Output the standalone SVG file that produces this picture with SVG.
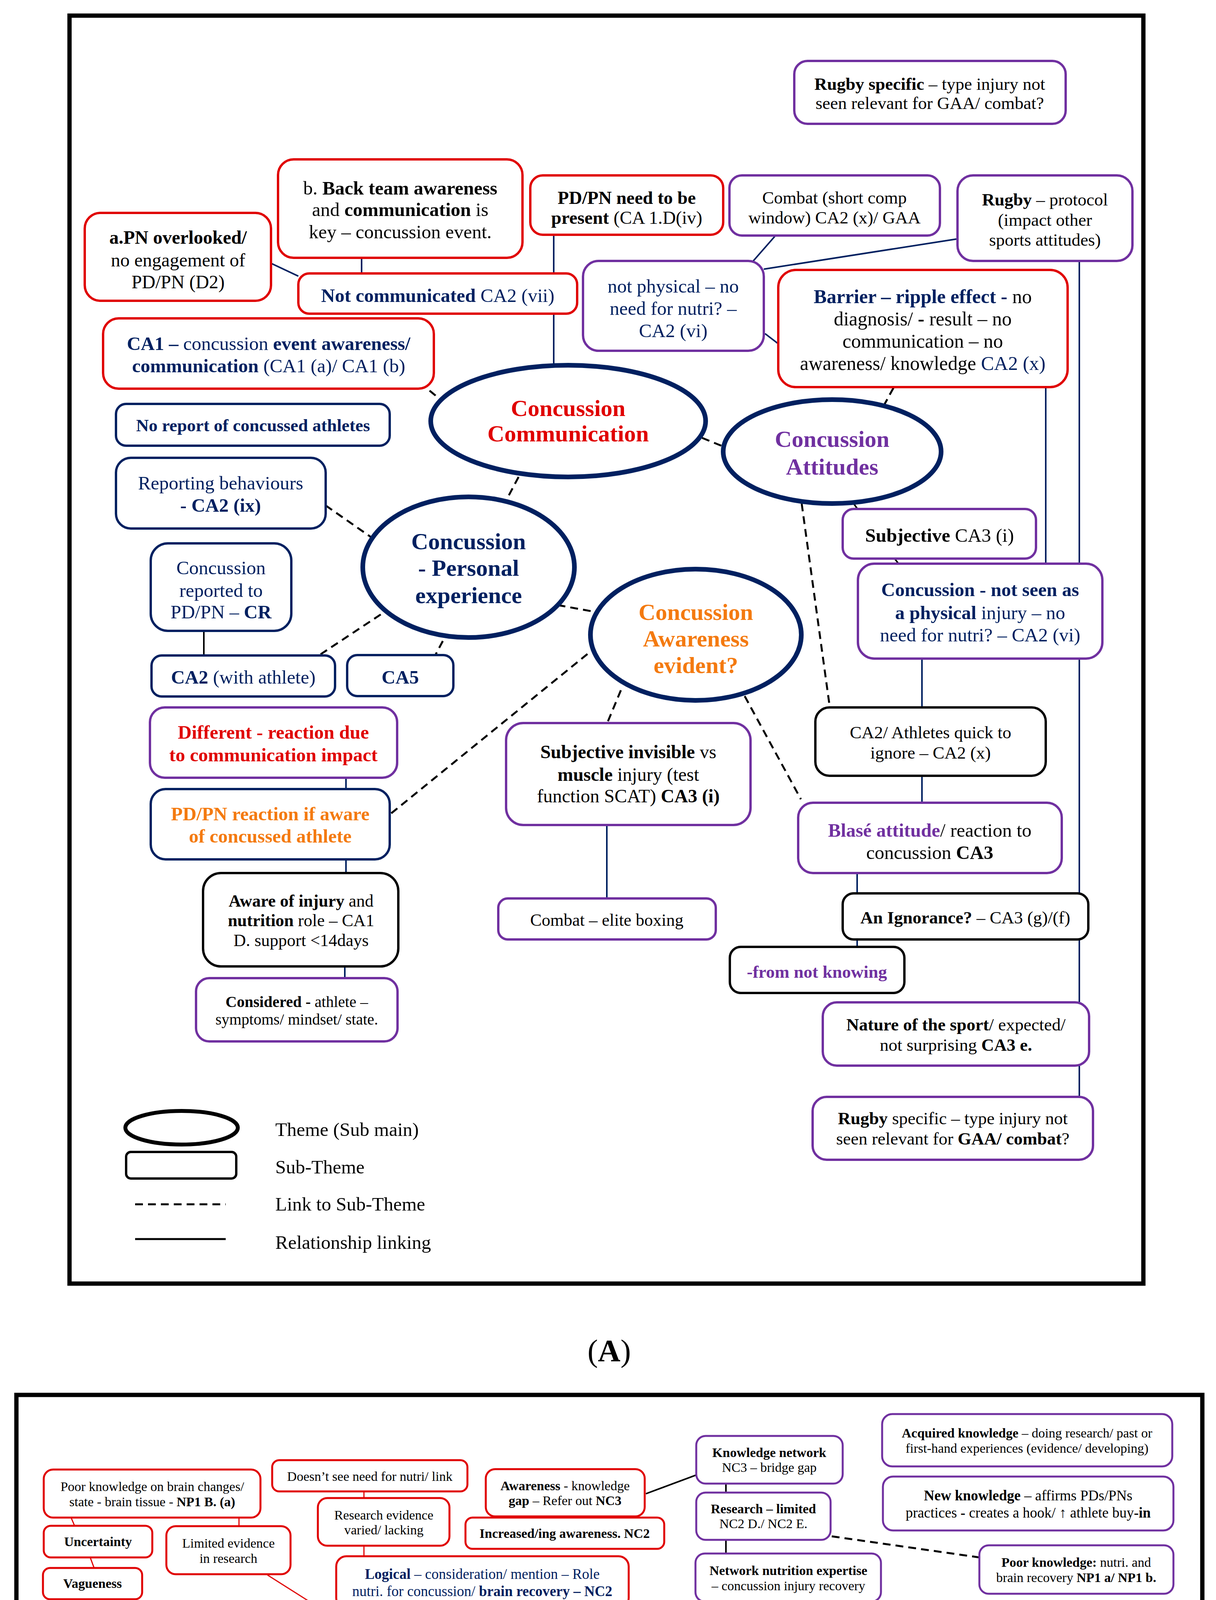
<svg xmlns="http://www.w3.org/2000/svg" width="3114" height="5653" viewBox="0 0 3114 5653">
<style>
text{font-family:"Liberation Serif","Times New Roman",serif;text-anchor:middle;fill:#000}
.b{font-weight:bold}
.nv{fill:#002060}.rd{fill:#e00000}.pu{fill:#7030a0}.or{fill:#f47a10}.bk{fill:#000}
.r,.n,.p,.k{fill:#fff;stroke-width:6}
.r{stroke:#e00000}.n{stroke:#002060}.p{stroke:#7030a0}.k{stroke:#000}
.pb .r,.pb .n,.pb .p,.pb .k{stroke-width:5}
.e{fill:#fff;stroke:#002060;stroke-width:12}
.pb .e{stroke-width:10}
.ln{stroke:#002060;stroke-width:4;fill:none}
.lk{stroke:#000;stroke-width:4;fill:none}
.lr{stroke:#e00000;stroke-width:3;fill:none}
.ld{stroke:#000;stroke-width:5;stroke-dasharray:20 13;fill:none}
.frame{fill:none;stroke:#000;stroke-width:11}
.lg{text-anchor:start}
</style>
<rect width="3114" height="5653" fill="#fff"/>

<!-- ================= PANEL A ================= -->
<rect class="frame" x="178" y="40" width="2750" height="3246"/>

<g id="connectors-a">
<path class="ln" d="M694 674L764 707"/>
<path class="ln" d="M926 660V700"/>
<path class="ln" d="M1418 601V940"/>
<path class="ln" d="M1986 603L1929 668"/>
<path class="ln" d="M2449 612L1956 689"/>
<path class="ln" d="M1959 854L1993 880"/>
<path class="ln" d="M2678 991V1443"/>
<path class="ln" d="M2764 668V2808"/>
<path class="lk" d="M2186 1289L2196 1303"/>
<path class="lk" d="M2291 1430L2301 1443"/>
<path class="ln" d="M2361 1686V1811"/>
<path class="ln" d="M2361 1986V2055"/>
<path class="ln" d="M2195 2236V2424"/>
<path class="ln" d="M1554 2112V2300"/>
<path class="lk" d="M522 1615V1678"/>
<path class="ln" d="M886 1991V2020"/>
<path class="ln" d="M886 2200V2235"/>
<path class="ln" d="M883 2474V2504"/>
<path class="ld" d="M1100 1000L1122 1018"/>
<path class="ld" d="M2288 993L2264 1037"/>
<path class="ld" d="M1798 1121L1852 1143"/>
<path class="ld" d="M1328 1221L1301 1272"/>
<path class="ld" d="M834 1294L950 1375"/>
<path class="ld" d="M1428 1549L1527 1567"/>
<path class="ld" d="M975 1573L821 1675"/>
<path class="ld" d="M1134 1641L1116 1675"/>
<path class="ld" d="M1002 2082L1517 1664"/>
<path class="ld" d="M1590 1767L1555 1851"/>
<path class="ld" d="M1907 1782L2051 2046"/>
<path class="ld" d="M2053 1289L2125 1811"/>
</g>

<g id="a-pn-overlooked" font-size="48">
<rect class="r" x="217" y="545" width="477" height="225" rx="40"/>
<text x="456" y="624" class="b">a.PN overlooked/</text>
<text x="456" y="682">no engagement of</text>
<text x="456" y="738">PD/PN (D2)</text>
</g>
<g id="a-back-team" font-size="49">
<rect class="r" x="712" y="408" width="626" height="252" rx="40"/>
<text x="1025" y="498">b. <tspan class="b">Back team awareness</tspan></text>
<text x="1025" y="553">and <tspan class="b">communication</tspan> is</text>
<text x="1025" y="610">key – concussion event.</text>
</g>
<g id="a-not-communicated" font-size="49">
<rect class="r" x="764" y="700" width="714" height="103" rx="28"/>
<text x="1121" y="773" class="nv"><tspan class="b">Not communicated</tspan> CA2 (vii)</text>
</g>
<g id="a-pdpn-present" font-size="47">
<rect class="r" x="1358" y="449" width="494" height="152" rx="32"/>
<text x="1605" y="522" class="b">PD/PN need to be</text>
<text x="1605" y="573"><tspan class="b">present</tspan> (CA 1.D(iv)</text>
</g>
<g id="a-combat-short" font-size="45">
<rect class="p" x="1868" y="449" width="539" height="154" rx="32"/>
<text x="2137" y="521">Combat (short comp</text>
<text x="2137" y="572">window) CA2 (x)/ GAA</text>
</g>
<g id="a-rugby-protocol" font-size="45">
<rect class="p" x="2452" y="449" width="448" height="219" rx="40"/>
<text x="2676" y="526"><tspan class="b">Rugby</tspan> – protocol</text>
<text x="2676" y="578">(impact other</text>
<text x="2676" y="629">sports attitudes)</text>
</g>
<g id="a-rugby-specific-top" font-size="45">
<rect class="p" x="2034" y="156" width="695" height="161" rx="34"/>
<text x="2381" y="230"><tspan class="b">Rugby specific</tspan> – type injury not</text>
<text x="2381" y="279">seen relevant for GAA/ combat?</text>
</g>
<g id="a-not-physical" font-size="49">
<rect class="p" x="1493" y="668" width="463" height="230" rx="40"/>
<text x="1724" y="749" class="nv">not physical – no</text>
<text x="1724" y="806" class="nv">need for nutri? –</text>
<text x="1724" y="863" class="nv">CA2 (vi)</text>
</g>
<g id="a-barrier" font-size="50">
<rect class="r" x="1993" y="691" width="741" height="300" rx="45"/>
<text x="2363" y="776"><tspan class="b nv">Barrier – ripple effect -</tspan> no</text>
<text x="2363" y="833">diagnosis/ <tspan class="b">-</tspan> result – no</text>
<text x="2363" y="890">communication – no</text>
<text x="2363" y="947">awareness/ knowledge <tspan class="nv">CA2 (x)</tspan></text>
</g>
<g id="a-ca1" font-size="49">
<rect class="r" x="264" y="815" width="847" height="180" rx="40"/>
<text x="688" y="896" class="nv"><tspan class="b">CA1 –</tspan> concussion <tspan class="b">event awareness/</tspan></text>
<text x="688" y="953" class="nv"><tspan class="b">communication</tspan> (CA1 (a)/ CA1 (b)</text>
</g>
<g id="a-no-report" font-size="45">
<rect class="n" x="297" y="1034" width="701" height="107" rx="26"/>
<text x="648" y="1104" class="b nv">No report of concussed athletes</text>
</g>

<g id="a-theme-communication" font-size="60">
<ellipse class="e" cx="1455" cy="1078" rx="352" ry="143"/>
<text x="1455" y="1065" class="b rd">Concussion</text>
<text x="1455" y="1130" class="b rd">Communication</text>
</g>
<g id="a-theme-attitudes" font-size="60">
<ellipse class="e" cx="2131" cy="1156" rx="279" ry="133"/>
<text x="2131" y="1144" class="b pu">Concussion</text>
<text x="2131" y="1215" class="b pu">Attitudes</text>
</g>
<g id="a-theme-personal" font-size="60">
<ellipse class="e" cx="1200" cy="1452" rx="271" ry="180"/>
<text x="1200" y="1406" class="b nv">Concussion</text>
<text x="1200" y="1474" class="b nv">- Personal</text>
<text x="1200" y="1544" class="b nv">experience</text>
</g>
<g id="a-theme-awareness" font-size="60">
<ellipse class="e" cx="1782" cy="1625" rx="270" ry="168"/>
<text x="1782" y="1587" class="b or">Concussion</text>
<text x="1782" y="1655" class="b or">Awareness</text>
<text x="1782" y="1723" class="b or">evident?</text>
</g>

<g id="a-subjective" font-size="49">
<rect class="p" x="2158" y="1303" width="495" height="127" rx="28"/>
<text x="2406" y="1387"><tspan class="b">Subjective</tspan> CA3 (i)</text>
</g>
<g id="a-not-seen-physical" font-size="49">
<rect class="p" x="2197" y="1443" width="626" height="243" rx="42"/>
<text x="2510" y="1526" class="b nv">Concussion - not seen as</text>
<text x="2510" y="1585" class="nv"><tspan class="b">a physical</tspan> injury – no</text>
<text x="2510" y="1642" class="nv">need for nutri? – CA2 (vi)</text>
</g>
<g id="a-athletes-ignore" font-size="45">
<rect class="k" x="2088" y="1811" width="590" height="175" rx="36"/>
<text x="2383" y="1890">CA2/ Athletes quick to</text>
<text x="2383" y="1942">ignore – CA2 (x)</text>
</g>
<g id="a-subjective-invisible" font-size="48">
<rect class="p" x="1296" y="1851" width="626" height="261" rx="44"/>
<text x="1609" y="1941"><tspan class="b">Subjective invisible</tspan> vs</text>
<text x="1609" y="1999"><tspan class="b">muscle</tspan> injury (test</text>
<text x="1609" y="2054">function SCAT) <tspan class="b">CA3 (i)</tspan></text>
</g>
<g id="a-blase" font-size="49">
<rect class="p" x="2044" y="2055" width="675" height="180" rx="38"/>
<text x="2381" y="2142"><tspan class="b pu">Blasé attitude</tspan>/ reaction to</text>
<text x="2381" y="2199">concussion <tspan class="b">CA3</tspan></text>
</g>
<g id="a-ignorance" font-size="45">
<rect class="k" x="2158" y="2287" width="629" height="118" rx="28"/>
<text x="2472" y="2364"><tspan class="b">An Ignorance?</tspan> – CA3 (g)/(f)</text>
</g>
<g id="a-not-knowing" font-size="45">
<rect class="k" x="1869" y="2424" width="447" height="118" rx="28"/>
<text x="2092" y="2503" class="b pu">-from not knowing</text>
</g>
<g id="a-nature-sport" font-size="45">
<rect class="p" x="2107" y="2566" width="682" height="162" rx="36"/>
<text x="2448" y="2638"><tspan class="b">Nature of the sport</tspan>/ expected/</text>
<text x="2448" y="2690">not surprising <tspan class="b">CA3 e.</tspan></text>
</g>
<g id="a-rugby-specific-bottom" font-size="45">
<rect class="p" x="2081" y="2808" width="718" height="161" rx="36"/>
<text x="2440" y="2878"><tspan class="b">Rugby</tspan> specific – type injury not</text>
<text x="2440" y="2930">seen relevant for <tspan class="b">GAA/ combat</tspan>?</text>
</g>
<g id="a-reporting" font-size="49">
<rect class="n" x="297" y="1172" width="537" height="181" rx="38"/>
<text x="565" y="1253" class="nv">Reporting behaviours</text>
<text x="565" y="1310" class="b nv">- CA2 (ix)</text>
</g>
<g id="a-reported-to" font-size="49">
<rect class="n" x="386" y="1391" width="360" height="224" rx="44"/>
<text x="566" y="1470" class="nv">Concussion</text>
<text x="566" y="1528" class="nv">reported to</text>
<text x="566" y="1583" class="nv">PD/PN – <tspan class="b">CR</tspan></text>
</g>
<g id="a-ca2-athlete" font-size="49">
<rect class="n" x="388" y="1678" width="470" height="105" rx="26"/>
<text x="623" y="1750" class="nv"><tspan class="b">CA2</tspan> (with athlete)</text>
</g>
<g id="a-ca5" font-size="49">
<rect class="n" x="889" y="1677" width="272" height="105" rx="26"/>
<text x="1025" y="1750" class="b nv">CA5</text>
</g>
<g id="a-different" font-size="49">
<rect class="p" x="384" y="1811" width="633" height="180" rx="38"/>
<text x="700" y="1891" class="b rd">Different - reaction due</text>
<text x="700" y="1949" class="b rd">to communication impact</text>
</g>
<g id="a-pdpn-reaction" font-size="49">
<rect class="n" x="386" y="2020" width="612" height="180" rx="38"/>
<text x="692" y="2100" class="b or">PD/PN reaction if aware</text>
<text x="692" y="2157" class="b or">of concussed athlete</text>
</g>
<g id="a-aware-injury" font-size="44">
<rect class="k" x="520" y="2235" width="500" height="239" rx="46"/>
<text x="771" y="2321"><tspan class="b">Aware of injury</tspan> and</text>
<text x="771" y="2371"><tspan class="b">nutrition</tspan> role – CA1</text>
<text x="771" y="2422">D. support &lt;14days</text>
</g>
<g id="a-considered" font-size="40">
<rect class="p" x="502" y="2504" width="516" height="162" rx="34"/>
<text x="760" y="2578"><tspan class="b">Considered -</tspan> athlete –</text>
<text x="760" y="2623">symptoms/ mindset/ state.</text>
</g>
<g id="a-combat-elite" font-size="44">
<rect class="p" x="1276" y="2300" width="557" height="105" rx="24"/>
<text x="1554" y="2370">Combat – elite boxing</text>
</g>

<g id="legend" font-size="49">
<ellipse cx="465" cy="2887" rx="144" ry="43" fill="none" stroke="#000" stroke-width="10"/>
<rect x="323" y="2949" width="282" height="68" rx="12" fill="none" stroke="#000" stroke-width="6"/>
<path d="M346 3083H578" stroke="#000" stroke-width="5" stroke-dasharray="20 13"/>
<path d="M346 3172H578" stroke="#000" stroke-width="5"/>
<text x="705" y="2908" class="lg">Theme (Sub main)</text>
<text x="705" y="3004" class="lg">Sub-Theme</text>
<text x="705" y="3099" class="lg">Link to Sub-Theme</text>
<text x="705" y="3197" class="lg">Relationship linking</text>
</g>
<text x="1560" y="3485" font-size="80">(<tspan class="b">A</tspan>)</text>

<!-- ================= PANEL B ================= -->
<g class="pb">
<rect class="frame" x="42" y="3571" width="3037" height="1877" stroke-width="10"/>

<g id="connectors-b">
<path class="lr" d="M182 3885L191 3906"/>
<path class="lr" d="M231 3987L241 4014"/>
<path class="lr" d="M282 4094L292 4123"/>
<path class="lr" d="M612 3885V3907"/>
<path class="lr" d="M685 4032L947 4198"/>
<path class="lr" d="M746 4220L896 4276"/>
<path class="lr" d="M932 3818V3835"/>
<path class="lr" d="M932 3957V3984"/>
<path class="lr" d="M1244 4118L1239 4150"/>
<path class="lk" d="M1654 3824L1783 3776"/>
<path class="lk" d="M1859 3798V3821"/>
<path class="lk" d="M1859 3942V3977"/>
<path class="lk" d="M2511 4429V4478"/>
<path class="lk" d="M2744 4424L2615 4476"/>
<path class="lk" d="M2424 4612V4724"/>
<path class="lk" d="M2303 4612L2262 4629"/>
<path class="lk" d="M1743 4607L1835 4684"/>
<path class="lk" d="M2414 4805L2672 4851"/>
<path class="lk" d="M2908 4702V4721"/>
<path class="lk" d="M2908 4801V4818"/>
<path class="lk" d="M2272 4881L2474 4974"/>
<path class="lk" d="M2024 4890V4980"/>
<path class="lk" d="M2221 5037L2474 5027"/>
<path class="lk" d="M682 4930L701 4941"/>
<path class="lk" d="M401 5039H629"/>
<path class="lk" d="M540 5149H776"/>
<path class="lk" d="M610 5277H723"/>
<path class="ln" d="M1748 5116L1517 5245"/>
<path class="ln" d="M1837 5116L1758 5206"/>
<path class="ln" d="M2026 5116L2031 5251"/>
<path class="ln" d="M2192 5116L2318 5251"/>
<path class="ln" d="M2221 5060L2390 5162"/>
<path class="ld" d="M1373 4206L2376 4147"/>
<path class="ld" d="M1406 4271L1786 4278"/>
<path class="ld" d="M902 4325L614 4421"/>
<path class="ld" d="M1045 4421L1038 4455"/>
<path class="ld" d="M2130 3933L2508 3987"/>
<path class="ld" d="M1114 4777L1348 4603"/>
<path class="ld" d="M698 4823H771"/>
<path class="ld" d="M1403 5033H1621"/>
<path class="ld" d="M1209 5169L1277 5264"/>
<path class="ld" d="M1080 5286H1277"/>
</g>

<g id="b-poor-knowledge-brain" font-size="34">
<rect class="r" x="112" y="3762" width="555" height="123" rx="24"/>
<text x="390" y="3817">Poor knowledge on brain changes/</text>
<text x="390" y="3856">state - brain tissue - <tspan class="b">NP1 B. (a)</tspan></text>
</g>
<g id="b-uncertainty" font-size="34">
<rect class="r" x="112" y="3906" width="278" height="81" rx="18"/>
<text x="251" y="3958" class="b">Uncertainty</text>
</g>
<g id="b-vagueness" font-size="34">
<rect class="r" x="110" y="4014" width="254" height="80" rx="18"/>
<text x="237" y="4065" class="b">Vagueness</text>
</g>
<g id="b-limited-evidence" font-size="34">
<rect class="r" x="426" y="3907" width="318" height="123" rx="24"/>
<text x="585" y="3962">Limited evidence</text>
<text x="585" y="4001">in research</text>
</g>
<g id="b-poor-awareness" font-size="37">
<rect class="r" x="146" y="4123" width="598" height="133" rx="26"/>
<text x="445" y="4181" class="b">Poor awareness/ on nutrition</text>
<text x="445" y="4231" class="b">role - <tspan class="nv">brain recovery link</tspan> - NC1</text>
</g>
<g id="b-doesnt-see" font-size="34">
<rect class="r" x="697" y="3738" width="500" height="80" rx="18"/>
<text x="947" y="3791">Doesn’t see need for nutri/ link</text>
</g>
<g id="b-research-evidence" font-size="34">
<rect class="r" x="814" y="3835" width="337" height="122" rx="24"/>
<text x="983" y="3890">Research evidence</text>
<text x="983" y="3928">varied/ lacking</text>
</g>
<g id="b-logical" font-size="37">
<rect class="r" x="861" y="3984" width="749" height="133" rx="26"/>
<text x="1235" y="4042" class="nv"><tspan class="b">Logical</tspan> – consideration/ mention – Role</text>
<text x="1235" y="4086" class="nv">nutri. for concussion/ <tspan class="b">brain recovery – NC2</tspan></text>
</g>
<g id="b-awareness-gap" font-size="34">
<rect class="r" x="1244" y="3761" width="407" height="121" rx="24"/>
<text x="1447" y="3815"><tspan class="b">Awareness</tspan> - knowledge</text>
<text x="1447" y="3853"><tspan class="b">gap</tspan> – Refer out <tspan class="b">NC3</tspan></text>
</g>
<g id="b-increased-awareness" font-size="34">
<rect class="r" x="1192" y="3885" width="509" height="80" rx="18"/>
<text x="1446" y="3937" class="b">Increased/ing awareness. NC2</text>
</g>
<g id="b-theme-awareness" font-size="45">
<ellipse class="e" cx="1152" cy="4283" rx="254" ry="140"/>
<text x="1152" y="4252" class="b rd">Awareness –</text>
<text x="1152" y="4302" class="b rd">Nutrition role</text>
<text x="1152" y="4354" class="b rd">for concussion</text>
</g>
<g id="b-novel-supplementation" font-size="37">
<rect class="r" x="102" y="4290" width="512" height="228" rx="40"/>
<text x="358" y="4355" class="b">Novel supplementation</text>
<text x="358" y="4398"><tspan class="b">application</tspan> – lack practical</text>
<text x="358" y="4441">awareness/ <tspan class="b">poor knowledge</tspan></text>
<text x="358" y="4484" class="b">- C1/ FO1/ P1</text>
</g>
<g id="b-no-specific-strategy" font-size="37">
<rect class="k" x="781" y="4455" width="503" height="191" rx="36"/>
<text x="1032" y="4523" class="b pu">Using no specific</text>
<text x="1032" y="4567">concussion <tspan class="b pu">strategy –</tspan></text>
<text x="1032" y="4610">honest PD/PN – <tspan class="b">NC5/ NP5</tspan></text>
</g>
<g id="b-implementation-need" font-size="37">
<rect class="k" x="1343" y="4473" width="688" height="134" rx="26"/>
<text x="1687" y="4540"><tspan class="b">Implementation</tspan> – need injury recovery</text>
<text x="1687" y="4582">– NC2C (a) <tspan class="b">attention/ attitude - differ</tspan></text>
</g>
<g id="b-knowledge-network" font-size="34">
<rect class="p" x="1783" y="3676" width="375" height="122" rx="24"/>
<text x="1970" y="3730" class="b">Knowledge network</text>
<text x="1970" y="3768">NC3 – bridge gap</text>
</g>
<g id="b-research-limited" font-size="34">
<rect class="p" x="1783" y="3821" width="344" height="121" rx="24"/>
<text x="1955" y="3874" class="b">Research – limited</text>
<text x="1955" y="3912">NC2 D./ NC2 E.</text>
</g>
<g id="b-network-expertise" font-size="34">
<rect class="p" x="1781" y="3977" width="475" height="123" rx="24"/>
<text x="2019" y="4032" class="b">Network nutrition expertise</text>
<text x="2019" y="4071">– concussion injury recovery</text>
</g>
<g id="b-acquired-knowledge" font-size="34">
<rect class="p" x="2259" y="3620" width="743" height="134" rx="26"/>
<text x="2630" y="3680"><tspan class="b">Acquired knowledge</tspan> – doing research/ past or</text>
<text x="2630" y="3719">first-hand experiences (evidence/ developing)</text>
</g>
<g id="b-new-knowledge" font-size="37">
<rect class="p" x="2261" y="3780" width="744" height="138" rx="26"/>
<text x="2633" y="3841"><tspan class="b">New knowledge</tspan> – affirms PDs/PNs</text>
<text x="2633" y="3885">practices <tspan class="b">-</tspan> creates a hook/ ↑ athlete buy<tspan class="b">-in</tspan></text>
</g>
<g id="b-poor-knowledge-nutri" font-size="34">
<rect class="p" x="2508" y="3956" width="497" height="124" rx="24"/>
<text x="2756" y="4011"><tspan class="b">Poor knowledge:</tspan> nutri. and</text>
<text x="2756" y="4050">brain recovery <tspan class="b">NP1 a/ NP1 b.</tspan></text>
</g>
<g id="b-implementation-barrier" font-size="34">
<rect class="p" x="2376" y="4100" width="626" height="80" rx="18"/>
<text x="2689" y="4152"><tspan class="b">Implementation</tspan> – barrier/ limits ability</text>
</g>
<g id="b-knowledge-undergrad" font-size="34">
<rect class="p" x="2338" y="4193" width="667" height="123" rx="24"/>
<text x="2671" y="4247"><tspan class="b">Knowledge</tspan> – acquired during undergrad –</text>
<text x="2671" y="4285">link <tspan class="b">nutri</tspan> and <tspan class="b">concussion -curious - NC2</tspan></text>
</g>
<g id="b-theme-knowledge" font-size="45">
<ellipse class="e" cx="2036" cy="4317" rx="254" ry="139"/>
<text x="2036" y="4281" class="b pu">Knowledge -</text>
<text x="2036" y="4333" class="b pu">Nutrition role</text>
<text x="2036" y="4385" class="b pu">for concussion</text>
</g>
<g id="b-symptoms" font-size="34">
<rect class="n" x="2328" y="4351" width="339" height="78" rx="18"/>
<text x="2497" y="4403" class="nv"><tspan class="b">symptoms</tspan> – nausea</text>
</g>
<g id="b-practical" font-size="37">
<rect class="r" x="2732" y="4342" width="220" height="80" rx="18"/>
<text x="2842" y="4398" class="b">Practical</text>
</g>
<g id="b-strategic" font-size="37">
<rect class="n" x="2274" y="4478" width="632" height="134" rx="26"/>
<text x="2590" y="4538" class="b nv">Strategic overall post injury</text>
<text x="2590" y="4580" class="nv">nutrition support approaches – <tspan class="b">NP2</tspan></text>
</g>
<g id="b-theme-implementation" font-size="45">
<ellipse class="e" cx="2114" cy="4755" rx="318" ry="140"/>
<text x="2114" y="4721" class="b nv">Implementation -</text>
<text x="2114" y="4772" class="b nv">Nutrition strategies</text>
<text x="2114" y="4825" class="b nv">post-concussion</text>
</g>
<g id="b-feel-normal" font-size="34">
<rect class="n" x="2761" y="4623" width="231" height="79" rx="18"/>
<text x="2876" y="4674" class="nv">feel normal.</text>
</g>
<g id="b-enjoyment" font-size="34">
<rect class="n" x="2764" y="4721" width="230" height="80" rx="18"/>
<text x="2879" y="4773" class="nv">enjoyment</text>
</g>
<g id="b-focused" font-size="34">
<rect class="n" x="2672" y="4818" width="327" height="133" rx="26"/>
<text x="2835" y="4871" class="nv"><tspan class="b">Focused -</tspan> blocks/</text>
<text x="2835" y="4912" class="nv">reduce</text>
</g>
<g id="b-varies" font-size="34">
<rect class="n" x="2474" y="4971" width="510" height="79" rx="18"/>
<text x="2729" y="5022" class="nv"><tspan class="b">Varies</tspan> on time/ athlete mindset</text>
</g>
<g id="b-educated" font-size="37">
<rect class="k" x="207" y="4630" width="509" height="143" rx="28"/>
<text x="462" y="4696" class="b nv">Educated/ research based</text>
<text x="462" y="4740" class="b nv">nutrition protocols – NP4.</text>
</g>
<g id="b-gut-brain" font-size="37">
<rect class="k" x="771" y="4777" width="440" height="79" rx="18"/>
<text x="991" y="4832" class="b">(P2) Gut brain support</text>
</g>
<g id="b-probiotic" font-size="37">
<rect class="k" x="411" y="4801" width="287" height="127" rx="24"/>
<text x="555" y="4861" class="b">Probiotic -</text>
<text x="555" y="4903">anecdotal</text>
</g>
<g id="b-theme-novel" font-size="45">
<ellipse class="e" cx="1016" cy="5028" rx="387" ry="148"/>
<text x="1016" y="4985" class="b or">Novel Nutritional</text>
<text x="1016" y="5046" class="b or">Protocols - <tspan class="nv">Implemented</tspan></text>
<text x="1016" y="5105" class="b or">- post-concussion– NP4</text>
</g>
<g id="b-creatine" font-size="37">
<rect class="k" x="114" y="4974" width="287" height="98" rx="20"/>
<text x="258" y="5036"><tspan class="b">Creatine -</tspan>C4</text>
</g>
<g id="b-omega3" font-size="37">
<rect class="k" x="114" y="5114" width="426" height="92" rx="20"/>
<text x="327" y="5174"><tspan class="b">Omega 3 - DHA -</tspan>FO4</text>
</g>
<g id="b-carb-reloading" font-size="37">
<rect class="k" x="114" y="5228" width="496" height="84" rx="18"/>
<text x="362" y="5282" class="b">Carb – reloading - Cr-P</text>
</g>
<g id="b-supplementation" font-size="37">
<rect class="k" x="723" y="5198" width="357" height="149" rx="28"/>
<text x="902" y="5264" class="b or">Supplementation</text>
<text x="902" y="5308" class="b or">– trialling</text>
</g>
<g id="b-carbohydrates" font-size="34">
<rect class="n" x="1277" y="5245" width="310" height="78" rx="16"/>
<text x="1432" y="5296" class="b">Carbohydrates</text>
</g>
<g id="b-potential-support" font-size="37">
<rect class="k" x="1621" y="4980" width="600" height="132" rx="26"/>
<text x="1921" y="5039" class="nv"><tspan class="b">Potential support</tspan> nutrition brain</text>
<text x="1921" y="5082" class="nv">healing – <tspan class="b">NP3 -</tspan> <tspan class="b rd">dietary</tspan></text>
</g>
<g id="b-energy" font-size="34">
<rect class="n" x="1622" y="5206" width="268" height="115" rx="22"/>
<text x="1756" y="5259" class="b">Energy – fuel</text>
<text x="1756" y="5297">management</text>
</g>
<g id="b-protein" font-size="34">
<rect class="n" x="1929" y="5251" width="198" height="71" rx="16"/>
<text x="2028" y="5303" class="b">Protein</text>
</g>
<g id="b-fruit-veg" font-size="34">
<rect class="n" x="2167" y="5251" width="263" height="71" rx="16"/>
<text x="2298" y="5303" class="b">Fruit &amp; Veg</text>
</g>
<g id="b-fats" font-size="34">
<rect class="n" x="2390" y="5148" width="156" height="80" rx="16"/>
<text x="2468" y="5200" class="b">Fats</text>
</g>
<g id="b-hydration" font-size="34">
<rect class="n" x="2628" y="5067" width="242" height="80" rx="16"/>
<text x="2749" y="5120" class="b">Hydration</text>
</g>
<g id="b-reduce-omega6" font-size="30">
<rect class="n" x="2566" y="5158" width="300" height="70" rx="14"/>
<text x="2716" y="5205">Reduce – <tspan class="b">omega-6</tspan></text>
</g>
<g id="b-increase-omega3" font-size="30">
<rect class="n" x="2501" y="5242" width="331" height="70" rx="14"/>
<text x="2667" y="5289">Increase – <tspan class="b">omega-3</tspan></text>
</g>
</g>
<text x="1560" y="5607" font-size="80">(<tspan class="b">B</tspan>)</text>
</svg>
